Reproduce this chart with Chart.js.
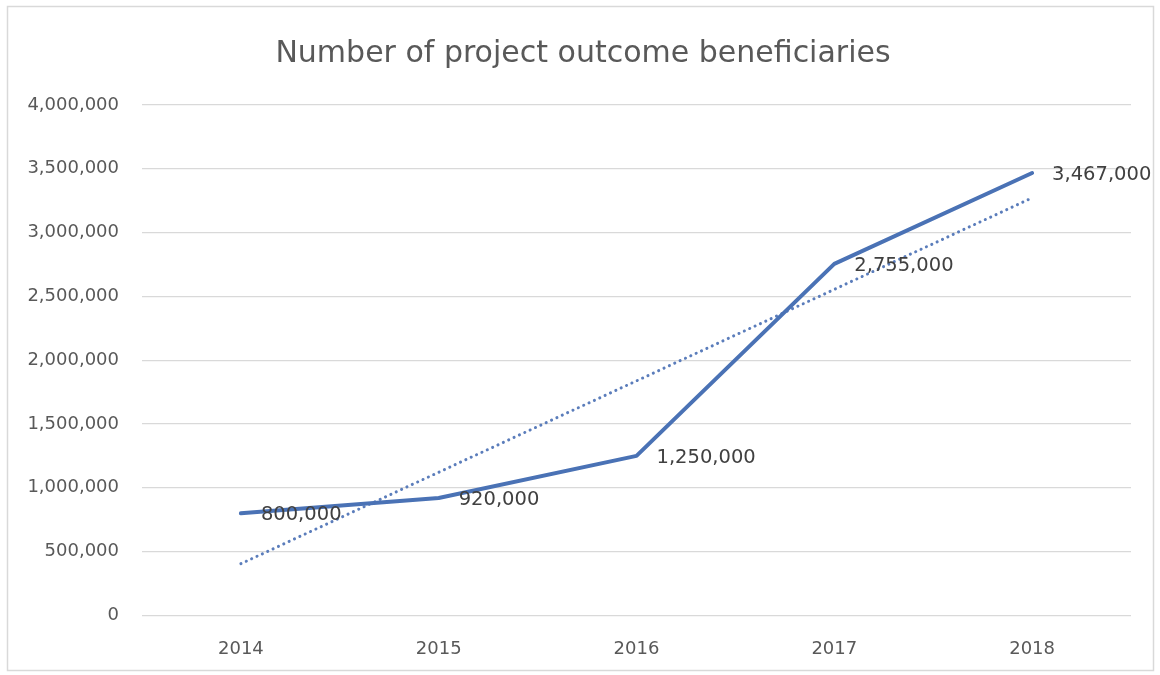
<!DOCTYPE html>
<html>
<head>
<meta charset="utf-8">
<script src="https://cdn.jsdelivr.net/npm/chart.js@4.4.1/dist/chart.umd.min.js"></script>
<style>
  html, body { margin: 0; padding: 0; background: #ffffff; }
  #wrap { position: relative; width: 1160px; height: 675px; }
</style>
</head>
<body>
<div id="wrap"><canvas id="chart" width="1160" height="675"></canvas></div>
<script>
// Beneficiaries per year
const years = ['2014', '2015', '2016', '2017', '2018'];
const beneficiaries = [800000, 920000, 1250000, 2755000, 3467000];
// Linear trendline values at each year
const trendValues = [405000, 1122000, 1838000, 2555000, 3272000];
// Value axis
const yMin = 0;
const yMax = 4000000;
const yStep = 500000;

const fmt = v => v.toLocaleString('en-US');
const FONT = "'DejaVu Sans', sans-serif";

// Outer frame of the chart
const framePlugin = {
  id: 'frame',
  beforeDraw(chart) {
    const ctx = chart.ctx;
    ctx.save();
    ctx.fillStyle = '#ffffff';
    ctx.fillRect(0, 0, chart.width, chart.height);
    ctx.strokeStyle = '#d9d9d9';
    ctx.lineWidth = 1.5;
    ctx.strokeRect(7.5, 6.5, 1146, 664);
    ctx.restore();
  }
};

// Value labels to the right of each point of the main series
const valueLabels = {
  id: 'valueLabels',
  afterDatasetsDraw(chart) {
    const ctx = chart.ctx;
    const meta = chart.getDatasetMeta(0);
    const data = chart.data.datasets[0].data;
    ctx.save();
    ctx.font = '19.5px ' + FONT;
    ctx.fillStyle = '#404040';
    ctx.textAlign = 'left';
    ctx.textBaseline = 'middle';
    meta.data.forEach((pt, i) => {
      ctx.fillText(fmt(data[i]), pt.x + 20, pt.y + 2);
    });
    ctx.restore();
  }
};

new Chart(document.getElementById('chart'), {
  type: 'line',
  data: {
    labels: years,
    datasets: [
      {
        label: 'Beneficiaries',
        data: beneficiaries,
        borderColor: '#4a72b5',
        borderWidth: 4,
        pointRadius: 0,
        tension: 0,
        borderJoinStyle: 'round',
        borderCapStyle: 'round',
        order: 1
      },
      {
        label: 'Linear trend',
        data: trendValues,
        borderColor: '#5b7dbb',
        borderWidth: 3,
        borderDash: [0.1, 5.8],
        borderCapStyle: 'round',
        pointRadius: 0,
        tension: 0,
        order: 2
      }
    ]
  },
  options: {
    responsive: false,
    animation: false,
    layout: { padding: { left: 6, right: 0, top: 0, bottom: -8 } },
    plugins: {
      legend: { display: false },
      tooltip: { enabled: false },
      title: {
        display: true,
        text: 'Number of project outcome beneficiaries',
        color: '#595959',
        font: { family: FONT, size: 30, weight: 'normal' },
        padding: { top: 36, bottom: 33 }
      }
    },
    scales: {
      x: {
        offset: true,
        grid: { display: false, drawTicks: false },
        border: { display: false },
        ticks: {
          color: '#595959',
          font: { family: FONT, size: 18 },
          padding: 23
        }
      },
      y: {
        min: yMin,
        max: yMax,
        afterFit(scale) { scale.width = 136; },
        grid: { color: '#d9d9d9', lineWidth: 1.3, drawTicks: false },
        border: { display: false },
        ticks: {
          stepSize: yStep,
          color: '#595959',
          font: { family: FONT, size: 18 },
          padding: 23,
          callback: v => fmt(v)
        }
      },
      // empty right-hand margin axis keeping the plot inside the frame
      yRight: {
        position: 'right',
        min: yMin,
        max: yMax,
        afterFit(scale) { scale.width = 29; },
        grid: { display: false, drawTicks: false },
        border: { display: false },
        ticks: { display: false }
      }
    }
  },
  plugins: [framePlugin, valueLabels]
});
</script>
</body>
</html>
